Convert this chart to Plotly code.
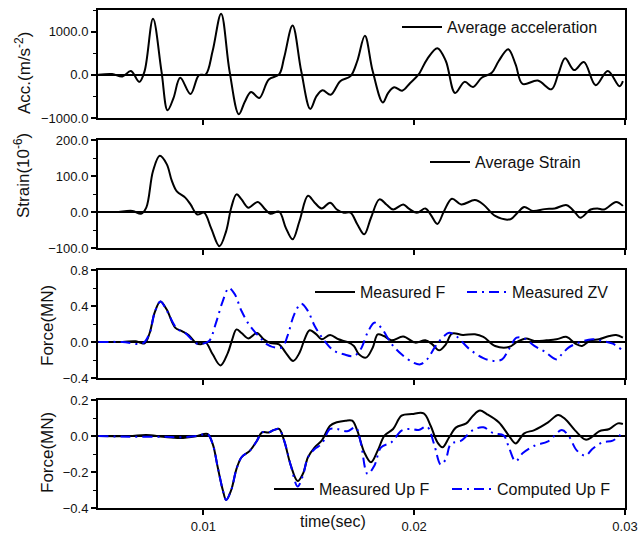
import plotly.graph_objects as go

# ---------------- data (time in ms) ----------------
acc_t = [5.02,5.67,6.16,6.56,6.96,7.21,7.61,8.01,8.30,8.58,8.90,9.39,9.79,10.11,10.44,
         10.84,11.24,11.68,11.97,12.26,12.65,13.10,13.59,13.83,14.23,14.64,15.07,15.36,15.65,16.04,
         16.49,16.98,17.30,17.66,18.03,18.51,18.76,19.05,19.43,19.81,20.21,20.61,21.10,21.50,21.94,
         22.39,22.79,23.20,23.68,24.01,24.46,24.81,25.14,25.86,26.51,26.83,27.16,27.59,28.05,28.61,
         29.18,29.74,29.90]
acc_v = [0,16,-39,86,-164,86,1297,86,-820,-539,-70,-445,-8,8,555,
         1414,86,-914,-617,-398,-539,-109,8,398,1140,86,-789,-500,-359,-461,
         -148,-31,320,906,86,-640,-422,-289,-367,-188,8,359,617,320,-422,
         -164,-281,-70,47,320,594,242,-211,-133,-336,8,383,109,297,-242,
         86,-266,-148]

strain_t = [5.02,5.83,6.64,7.04,7.29,7.61,7.93,8.26,8.50,8.74,9.14,9.39,9.71,10.03,10.36,
            10.76,11.08,11.32,11.57,11.81,12.13,12.58,12.94,13.18,13.59,13.91,14.23,14.56,14.96,15.28,
            15.61,16.01,16.33,16.66,16.98,17.30,17.63,17.95,18.35,18.68,19.00,19.48,19.73,20.13,20.53,
            20.78,21.10,21.42,21.79,22.23,22.88,23.28,23.84,24.57,24.90,25.22,25.62,26.19,26.67,27.24,
            27.64,27.88,28.37,28.69,29.01,29.58,29.90]
strain_v = [0,0,3,-5,12,114,156,133,87,57,40,21,-7,-2,-44,
            -95,-53,12,49,35,12,28,7,-5,1,-44,-76,-25,45,26,
            10,26,7,-2,-2,-34,-62,-16,35,21,7,21,10,-2,10,
            -7,-33,3,37,21,33,21,-11,-20,-2,14,3,8,10,19,
            -2,-16,7,10,7,28,17]

mf_t = [5.02,6.16,6.80,7.21,7.45,7.69,7.96,8.26,8.66,8.98,9.31,9.63,9.87,10.11,10.44,
        10.81,11.16,11.37,11.57,11.81,12.13,12.54,12.86,13.18,13.59,13.91,14.26,14.56,14.80,15.04,
        15.36,15.61,16.01,16.41,16.82,17.14,17.38,17.71,18.03,18.27,18.56,18.92,19.48,20.05,20.53,
        20.86,21.18,21.50,21.79,22.31,22.88,23.28,23.84,24.49,24.90,25.30,25.70,26.27,26.75,27.24,
        27.64,27.96,28.37,28.77,29.26,29.58,29.90]
mf_v = [0,0,0.007,-0.015,0.10,0.33,0.45,0.36,0.16,0.12,0.074,-0.007,-0.026,-0.007,-0.137,
        -0.26,-0.12,0.03,0.14,0.10,0.04,0.10,0.03,-0.011,-0.026,-0.12,-0.21,-0.12,0.03,0.13,
        0.085,0.03,0.078,0.03,0,-0.044,-0.137,-0.174,-0.063,0.085,0.067,0.019,0.06,-0.007,0.019,
        -0.026,-0.093,-0.026,0.093,0.078,0.085,0.056,-0.044,-0.056,0.004,0.04,0.011,0.019,0.03,0.056,
        -0.019,-0.044,0.019,0.03,0.067,0.078,0.048]

zv_t = [5.02,6.16,7.12,7.45,7.69,7.96,8.26,8.74,9.14,9.63,9.95,10.27,10.60,10.92,11.21,
        11.49,11.81,12.21,12.62,13.02,13.42,13.75,13.99,14.31,14.64,14.96,15.28,15.69,16.17,16.66,
        17.14,17.46,17.79,18.11,18.43,18.92,19.40,19.97,20.29,20.61,21.02,21.42,21.66,21.99,22.63,
        23.28,23.76,24.17,24.49,24.86,25.22,25.70,26.19,26.75,27.00,27.32,27.80,28.45,28.93,29.42,
        29.82]
zv_v = [0,0,-0.015,0.10,0.33,0.45,0.35,0.15,0.10,-0.011,-0.019,0.011,0.215,0.455,0.60,
        0.53,0.344,0.178,0.067,-0.026,-0.063,-0.056,0.067,0.307,0.426,0.344,0.178,0.03,-0.093,-0.137,
        -0.156,-0.081,0.104,0.215,0.16,-0.019,-0.137,-0.23,-0.248,-0.193,-0.044,0.067,0.104,0.067,-0.081,
        -0.18,-0.21,-0.193,-0.081,0.048,0.04,-0.044,-0.107,-0.193,-0.137,-0.063,-0.007,0.03,0.011,-0.019,
        -0.081]

mup_t = [5.02,6.48,7.29,8.09,8.90,9.71,10.19,10.44,10.68,10.92,11.08,11.32,11.57,11.81,12.21,
         12.54,12.78,13.10,13.34,13.59,13.83,14.15,14.47,14.72,14.96,15.28,15.61,16.01,16.33,16.74,
         17.06,17.30,17.63,17.95,18.27,18.59,19.00,19.40,19.89,20.45,20.78,21.10,21.34,21.66,21.99,
         22.47,22.79,23.12,23.44,24.01,24.49,24.81,25.22,25.70,26.35,26.83,27.16,27.64,28.13,28.45,
         28.77,29.26,29.66,29.90]
mup_v = [0,0,0.006,-0.004,-0.011,0,0.011,-0.044,-0.174,-0.30,-0.355,-0.30,-0.183,-0.118,-0.081,
         -0.026,0.02,0.02,0.033,0.039,-0.026,-0.165,-0.25,-0.21,-0.118,-0.063,-0.026,0.057,0.076,0.085,
         0.085,0.03,-0.09,-0.146,-0.081,0.002,0.039,0.113,0.122,0.126,0.057,-0.035,-0.063,-0.007,0.048,
         0.07,0.113,0.141,0.122,0.076,0.002,-0.041,0.015,0.033,0.076,0.117,0.094,0.03,-0.02,-0.004,
         0.026,0.039,0.07,0.067]

cup_t = [5.02,6.48,8.09,8.90,9.71,10.19,10.44,10.68,10.92,11.08,11.32,11.57,11.81,12.21,12.54,
         12.78,13.10,13.34,13.59,13.83,14.15,14.47,14.72,14.96,15.28,15.61,16.01,16.33,16.82,17.22,
         17.46,17.79,18.11,18.43,18.92,19.40,19.81,20.21,20.61,20.94,21.26,21.50,21.74,22.23,22.79,
         23.28,23.76,24.25,24.49,24.81,25.14,25.70,26.35,27.00,27.32,27.72,28.13,28.45,28.93,29.42,
         29.90]
cup_v = [0,-0.004,-0.004,-0.007,0,0.011,-0.044,-0.174,-0.30,-0.355,-0.30,-0.183,-0.118,-0.081,-0.026,
         0.02,0.02,0.033,0.039,-0.026,-0.165,-0.28,-0.22,-0.118,-0.072,-0.044,0.039,0.039,0.026,0.048,
         -0.035,-0.211,-0.165,-0.063,-0.035,0.03,0.039,0.033,0.052,-0.044,-0.159,-0.128,-0.044,-0.026,0.033,
         0.048,0.015,0.002,-0.063,-0.141,-0.096,-0.054,-0.03,0.033,0.002,-0.081,-0.109,-0.072,-0.035,-0.026,
         0.02]

x_ticks = [0.01, 0.02, 0.03]
x_tick_labels = ["0.01", "0.02", "0.03"]

def sec(ms):
    return [v / 1000.0 for v in ms]

FONT = "Liberation Sans, Arial, sans-serif"
BLUE = "#0000ff"
DASHDOT = "10px,5px,2px,5px"

fig = go.Figure()
fig.add_trace(go.Scatter(x=sec(acc_t), y=acc_v, mode="lines", line=dict(color="black", width=2, shape="spline"),
                         name="Average acceleration", xaxis="x", yaxis="y", legend="legend"))
fig.add_trace(go.Scatter(x=sec(strain_t), y=strain_v, mode="lines", line=dict(color="black", width=2, shape="spline"),
                         name="Average Strain", xaxis="x2", yaxis="y2", legend="legend2"))
fig.add_trace(go.Scatter(x=sec(mf_t), y=mf_v, mode="lines", line=dict(color="black", width=2, shape="spline"),
                         name="Measured F", xaxis="x3", yaxis="y3", legend="legend3"))
fig.add_trace(go.Scatter(x=sec(zv_t), y=zv_v, mode="lines", line=dict(color=BLUE, width=2, dash=DASHDOT, shape="spline"),
                         name="Measured ZV", xaxis="x3", yaxis="y3", legend="legend4"))
fig.add_trace(go.Scatter(x=sec(mup_t), y=mup_v, mode="lines", line=dict(color="black", width=2, shape="spline"),
                         name="Measured Up F", xaxis="x4", yaxis="y4", legend="legend5"))
fig.add_trace(go.Scatter(x=sec(cup_t), y=cup_v, mode="lines", line=dict(color=BLUE, width=2, dash=DASHDOT, shape="spline"),
                         name="Computed Up F", xaxis="x4", yaxis="y4", legend="legend6"))

L, R, T, B = 98, 16, 10, 25
PW, PH = 641 - L - R, 533 - T - B

def py(p):  # pixel y -> paper
    return (533 - B - p) / PH

def px(p):
    return (p - L) / PW

panels = [(10, 118), (140, 248), (270, 378), (400, 508)]
yranges = [[-1000, 1500], [-100, 200], [-0.4, 0.8], [-0.4, 0.2]]
ydt = [1000, 100, 0.4, 0.2]
yminor = [500, 50, 0.2, 0.1]

axcommon = dict(showline=True, linecolor="black", linewidth=2, mirror=True, showgrid=False,
                ticks="outside", ticklen=5, tickwidth=1.5, tickcolor="black",
                ticklabeloverflow="allow", automargin=False,
                tickfont=dict(family=FONT, size=13, color="#111"))

layout = dict(width=641, height=533, margin=dict(l=L, r=R, t=T, b=B, autoexpand=False),
              paper_bgcolor="white", plot_bgcolor="white", showlegend=True,
              font=dict(family=FONT, color="black"))

for i, (top, bot) in enumerate(panels):
    n = "" if i == 0 else str(i + 1)
    xa = dict(axcommon, range=[0.005, 0.03], tickvals=x_ticks, ticktext=x_tick_labels,
              showticklabels=(i == 3), zeroline=False, anchor="y" + n)
    if i > 0:
        xa["matches"] = "x"
    ya = dict(axcommon, range=yranges[i], dtick=ydt[i], tick0=0, tickformat=".1f",
              domain=[py(bot), py(top)], anchor="x" + n,
              zeroline=True, zerolinecolor="black", zerolinewidth=1.5,
              minor=dict(dtick=yminor[i], ticks="outside", ticklen=3, tickcolor="black", tickwidth=1.2))
    layout["xaxis" + n] = xa
    layout["yaxis" + n] = ya

legpos = [("legend", 397, 27), ("legend2", 425, 162), ("legend3", 310, 292),
          ("legend4", 462, 292), ("legend5", 269, 489), ("legend6", 447, 489)]
for name, lx, ly in legpos:
    layout[name] = dict(x=px(lx), y=py(ly), xanchor="left", yanchor="middle",
                        bgcolor="rgba(0,0,0,0)", borderwidth=0,
                        font=dict(family=FONT, size=16, color="#111"), itemwidth=40)

anns = [
    dict(text="Acc.(m/s<sup>-2</sup>)", x=px(23), y=py(73)),
    dict(text="Strain(10<sup>-6</sup>)", x=px(22), y=py(176)),
    dict(text="Force(MN)", x=px(47), y=py(326)),
    dict(text="Force(MN)", x=px(47), y=py(453)),
]
annotations = []
for a in anns:
    annotations.append(dict(a, xref="paper", yref="paper", textangle=-90, showarrow=False,
                            xanchor="center", yanchor="middle",
                            font=dict(family=FONT, size=17, color="#111")))
annotations.append(dict(text="time(sec)", x=px(333), y=py(521), xref="paper", yref="paper",
                        showarrow=False, xanchor="center", yanchor="middle",
                        font=dict(family=FONT, size=16, color="#111")))
layout["annotations"] = annotations

fig.update_layout(**layout)
fig.write_html("out.html", config={"displayModeBar": False},
               post_script="document.body.style.margin='0px';document.body.style.overflow='hidden';")
